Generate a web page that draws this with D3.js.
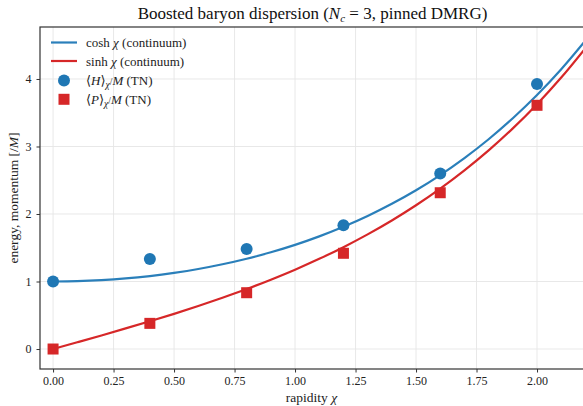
<!DOCTYPE html>
<html><head><meta charset="utf-8">
<script src="https://cdn.jsdelivr.net/npm/d3@7/dist/d3.min.js"></script>
<style>
body{margin:0;background:#fff;}
svg text{font-family:"Liberation Serif","DejaVu Serif",serif;}
</style></head>
<body><svg id="c" width="583" height="406"></svg>
<script>
const chiGrid = [0,0.1,0.2,0.3,0.4,0.5,0.6,0.7,0.8,0.9,1.0,1.1,1.2,1.3,1.4,1.5,1.6,1.7,1.8,1.9,2.0,2.1,2.2];
const coshVals = [1.000,1.005,1.020,1.045,1.081,1.128,1.185,1.255,1.337,1.433,1.543,1.669,1.811,1.971,2.151,2.352,2.577,2.828,3.107,3.418,3.762,4.144,4.568];
const sinhVals = [0.000,0.100,0.201,0.305,0.411,0.521,0.637,0.759,0.888,1.027,1.175,1.336,1.509,1.698,1.904,2.129,2.376,2.646,2.942,3.268,3.627,4.022,4.457];
// tensor network points
const chiTN = [0,0.4,0.8,1.2,1.6,2.0];
const energyTN = [1.00,1.335,1.48,1.835,2.60,3.925];
const momentumTN = [0.00,0.38,0.834,1.418,2.315,3.61];
const xTicks = [0,0.25,0.5,0.75,1.0,1.25,1.5,1.75,2.0];
const yTicks = [0,1,2,3,4];

const svg = d3.select("#c");
const L=40, R=583, T=27, B=369;
const x = d3.scaleLinear().domain([-0.054,2.19]).range([L,R]);
const y = d3.scaleLinear().domain([-0.296,4.77]).range([B,T]);
const blue="#2a7fba", red="#d62728", blueM="#1f77b4";

// grid
const g = svg.append("g");
g.selectAll(".gx").data(xTicks).join("line").attr("x1",d=>x(d)).attr("x2",d=>x(d)).attr("y1",T).attr("y2",B).attr("stroke","#e5e5e5").attr("stroke-width",0.9);
g.selectAll(".gy").data(yTicks).join("line").attr("y1",d=>y(d)).attr("y2",d=>y(d)).attr("x1",L).attr("x2",R).attr("stroke","#e5e5e5").attr("stroke-width",0.9);

svg.append("clipPath").attr("id","pc").append("rect").attr("x",L).attr("y",T).attr("width",R-L).attr("height",B-T);
const pl = svg.append("g").attr("clip-path","url(#pc)");
const line = d3.line().x(d=>x(d[0])).y(d=>y(d[1])).curve(d3.curveCatmullRom);
pl.append("path").datum(chiGrid.map((c,i)=>[c,coshVals[i]])).attr("d",line).attr("fill","none").attr("stroke",blue).attr("stroke-width",2.2);
pl.append("path").datum(chiGrid.map((c,i)=>[c,sinhVals[i]])).attr("d",line).attr("fill","none").attr("stroke",red).attr("stroke-width",2.2);
pl.selectAll(".h").data(chiTN.map((c,i)=>[c,energyTN[i]])).join("circle").attr("cx",d=>x(d[0])).attr("cy",d=>y(d[1])).attr("r",6).attr("fill",blueM);
pl.selectAll(".p").data(chiTN.map((c,i)=>[c,momentumTN[i]])).join("rect").attr("x",d=>x(d[0])-5.5).attr("y",d=>y(d[1])-5.5).attr("width",11).attr("height",11).attr("fill",red);

// axes
const ax = svg.append("g").attr("transform",`translate(0,${B})`).call(d3.axisBottom(x).tickValues(xTicks).tickFormat(d3.format(".2f")).tickSize(3.5).tickPadding(4));
const ay = svg.append("g").attr("transform",`translate(${L},0)`).call(d3.axisLeft(y).tickValues(yTicks).tickFormat(d3.format("d")).tickSize(3.5).tickPadding(5));
[ax,ay].forEach(a=>{a.select(".domain").remove();a.selectAll("text").attr("font-size",12).attr("fill","#222").style("font-family",'"Liberation Serif",serif');a.selectAll("line").attr("stroke","#333");});
svg.append("rect").attr("x",L).attr("y",T).attr("width",R-L+2).attr("height",B-T).attr("fill","none").attr("stroke","#333").attr("stroke-width",1.2);

// title
const t = svg.append("text").attr("x",(L+R)/2+1).attr("y",19).attr("text-anchor","middle").attr("font-size",17).attr("fill","#111");
t.append("tspan").text("Boosted baryon dispersion (");
t.append("tspan").attr("font-style","italic").text("N");
t.append("tspan").attr("font-style","italic").attr("font-size",11).attr("dy",3).text("c");
t.append("tspan").attr("dy",-3).text(" = 3, pinned DMRG)");

// axis labels
const xl = svg.append("text").attr("x",(L+R)/2).attr("y",402).attr("text-anchor","middle").attr("font-size",13.5).attr("fill","#222");
xl.append("tspan").text("rapidity ");
xl.append("tspan").attr("font-style","italic").text("χ");
const yl = svg.append("text").attr("transform",`translate(18,${(T+B)/2}) rotate(-90)`).attr("text-anchor","middle").attr("font-size",13.5).attr("fill","#222");
yl.append("tspan").text("energy, momentum  [/");
yl.append("tspan").attr("font-style","italic").text("M");
yl.append("tspan").text("]");

// legend
const lg = svg.append("g");
const ly = [42.5,61,80.5,99.3];
lg.append("line").attr("x1",51).attr("x2",77).attr("y1",ly[0]).attr("y2",ly[0]).attr("stroke",blue).attr("stroke-width",2.2);
lg.append("line").attr("x1",51).attr("x2",77).attr("y1",ly[1]).attr("y2",ly[1]).attr("stroke",red).attr("stroke-width",2.2);
lg.append("circle").attr("cx",64).attr("cy",ly[2]).attr("r",6).attr("fill",blueM);
lg.append("rect").attr("x",58.5).attr("y",ly[3]-5.5).attr("width",11).attr("height",11).attr("fill",red);
function ltxt(yy, parts){
  const tx = lg.append("text").attr("x",86).attr("y",yy+4.5).attr("font-size",13).attr("fill","#222");
  parts.forEach(p=>{const s=tx.append("tspan").text(p[0]); if(p[1]) s.attr("font-style","italic"); if(p[2]) s.attr("font-size",9.5).attr("dy",p[2]);});
  // fit to the reference width of the label block
  return tx;
}
const widths = [102,100,90,88];
[ltxt(ly[0],[["cosh "],["χ",1],[" (continuum)"]]),
 ltxt(ly[1],[["sinh "],["χ",1],[" (continuum)"]]),
 ltxt(ly[2],[["⟨"],["H",1],["⟩"],["χ",1,3],["/",0,-3],["M",1],["  (TN)"]]),
 ltxt(ly[3],[["⟨"],["P",1],["⟩"],["χ",1,3],["/",0,-3],["M",1],["  (TN)"]])
].forEach((tx,i)=>{const w=tx.node().getComputedTextLength(); if(w>widths[i]) tx.attr("textLength",widths[i]).attr("lengthAdjust","spacingAndGlyphs");});
</script></body></html>
